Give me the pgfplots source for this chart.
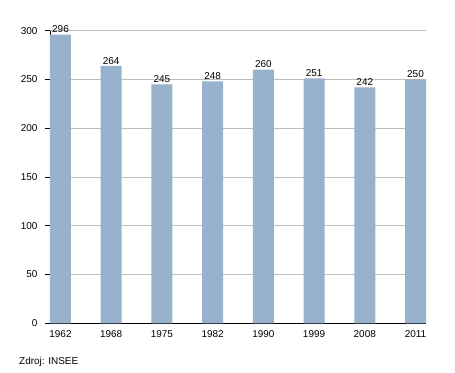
\documentclass[border=0pt]{standalone}
\usepackage{pgfplots}
\pgfplotsset{compat=1.18}
\usepackage{fontspec}
\setmainfont{Liberation Sans}
\definecolor{barc}{HTML}{98B1CC}
\definecolor{gridc}{HTML}{BDBDBD}
\begin{document}
\begin{tikzpicture}[font=\fontsize{10}{12}\selectfont]
\useasboundingbox (0,0) rectangle (455bp,373bp);
\begin{axis}[
  at={(50bp,49.7bp)}, anchor=south west,
  scale only axis, width=376bp, height=292.6bp,
  xmin=-0.207, xmax=7.207, ymin=0, ymax=300,
  xtick=data,
  xticklabels={1962,1968,1975,1982,1990,1999,2008,2011},
  ytick={0,50,100,150,200,250,300},
  axis x line*=bottom, axis y line*=left,
  x axis line style={-, line width=0.8pt},
  y axis line style={-, line width=0.8pt},
  xtick style={draw=none},
  ytick style={black, line width=0.6pt},
  tick align=outside, major tick length=5bp,
  ymajorgrids, grid style={gridc, line width=0.6pt},
  yticklabel style={xshift=-4bp},
  xticklabel style={yshift=1bp},
  tick label style={font=\fontsize{10}{12}\selectfont},
  /pgf/number format/assume math mode=true,
  ybar, bar width=21bp,
  nodes near coords,
  nodes near coords style={font=\fontsize{10}{12}\selectfont, inner sep=1.5bp},
  clip=false,
]
\addplot[fill=barc, draw=none] coordinates {
(0,296) (1,264) (2,245) (3,248) (4,260) (5,251) (6,242) (7,250)};
\end{axis}
\node[anchor=west, inner sep=0] at (19bp,11bp) {Zdroj: INSEE};
\end{tikzpicture}
\end{document}
